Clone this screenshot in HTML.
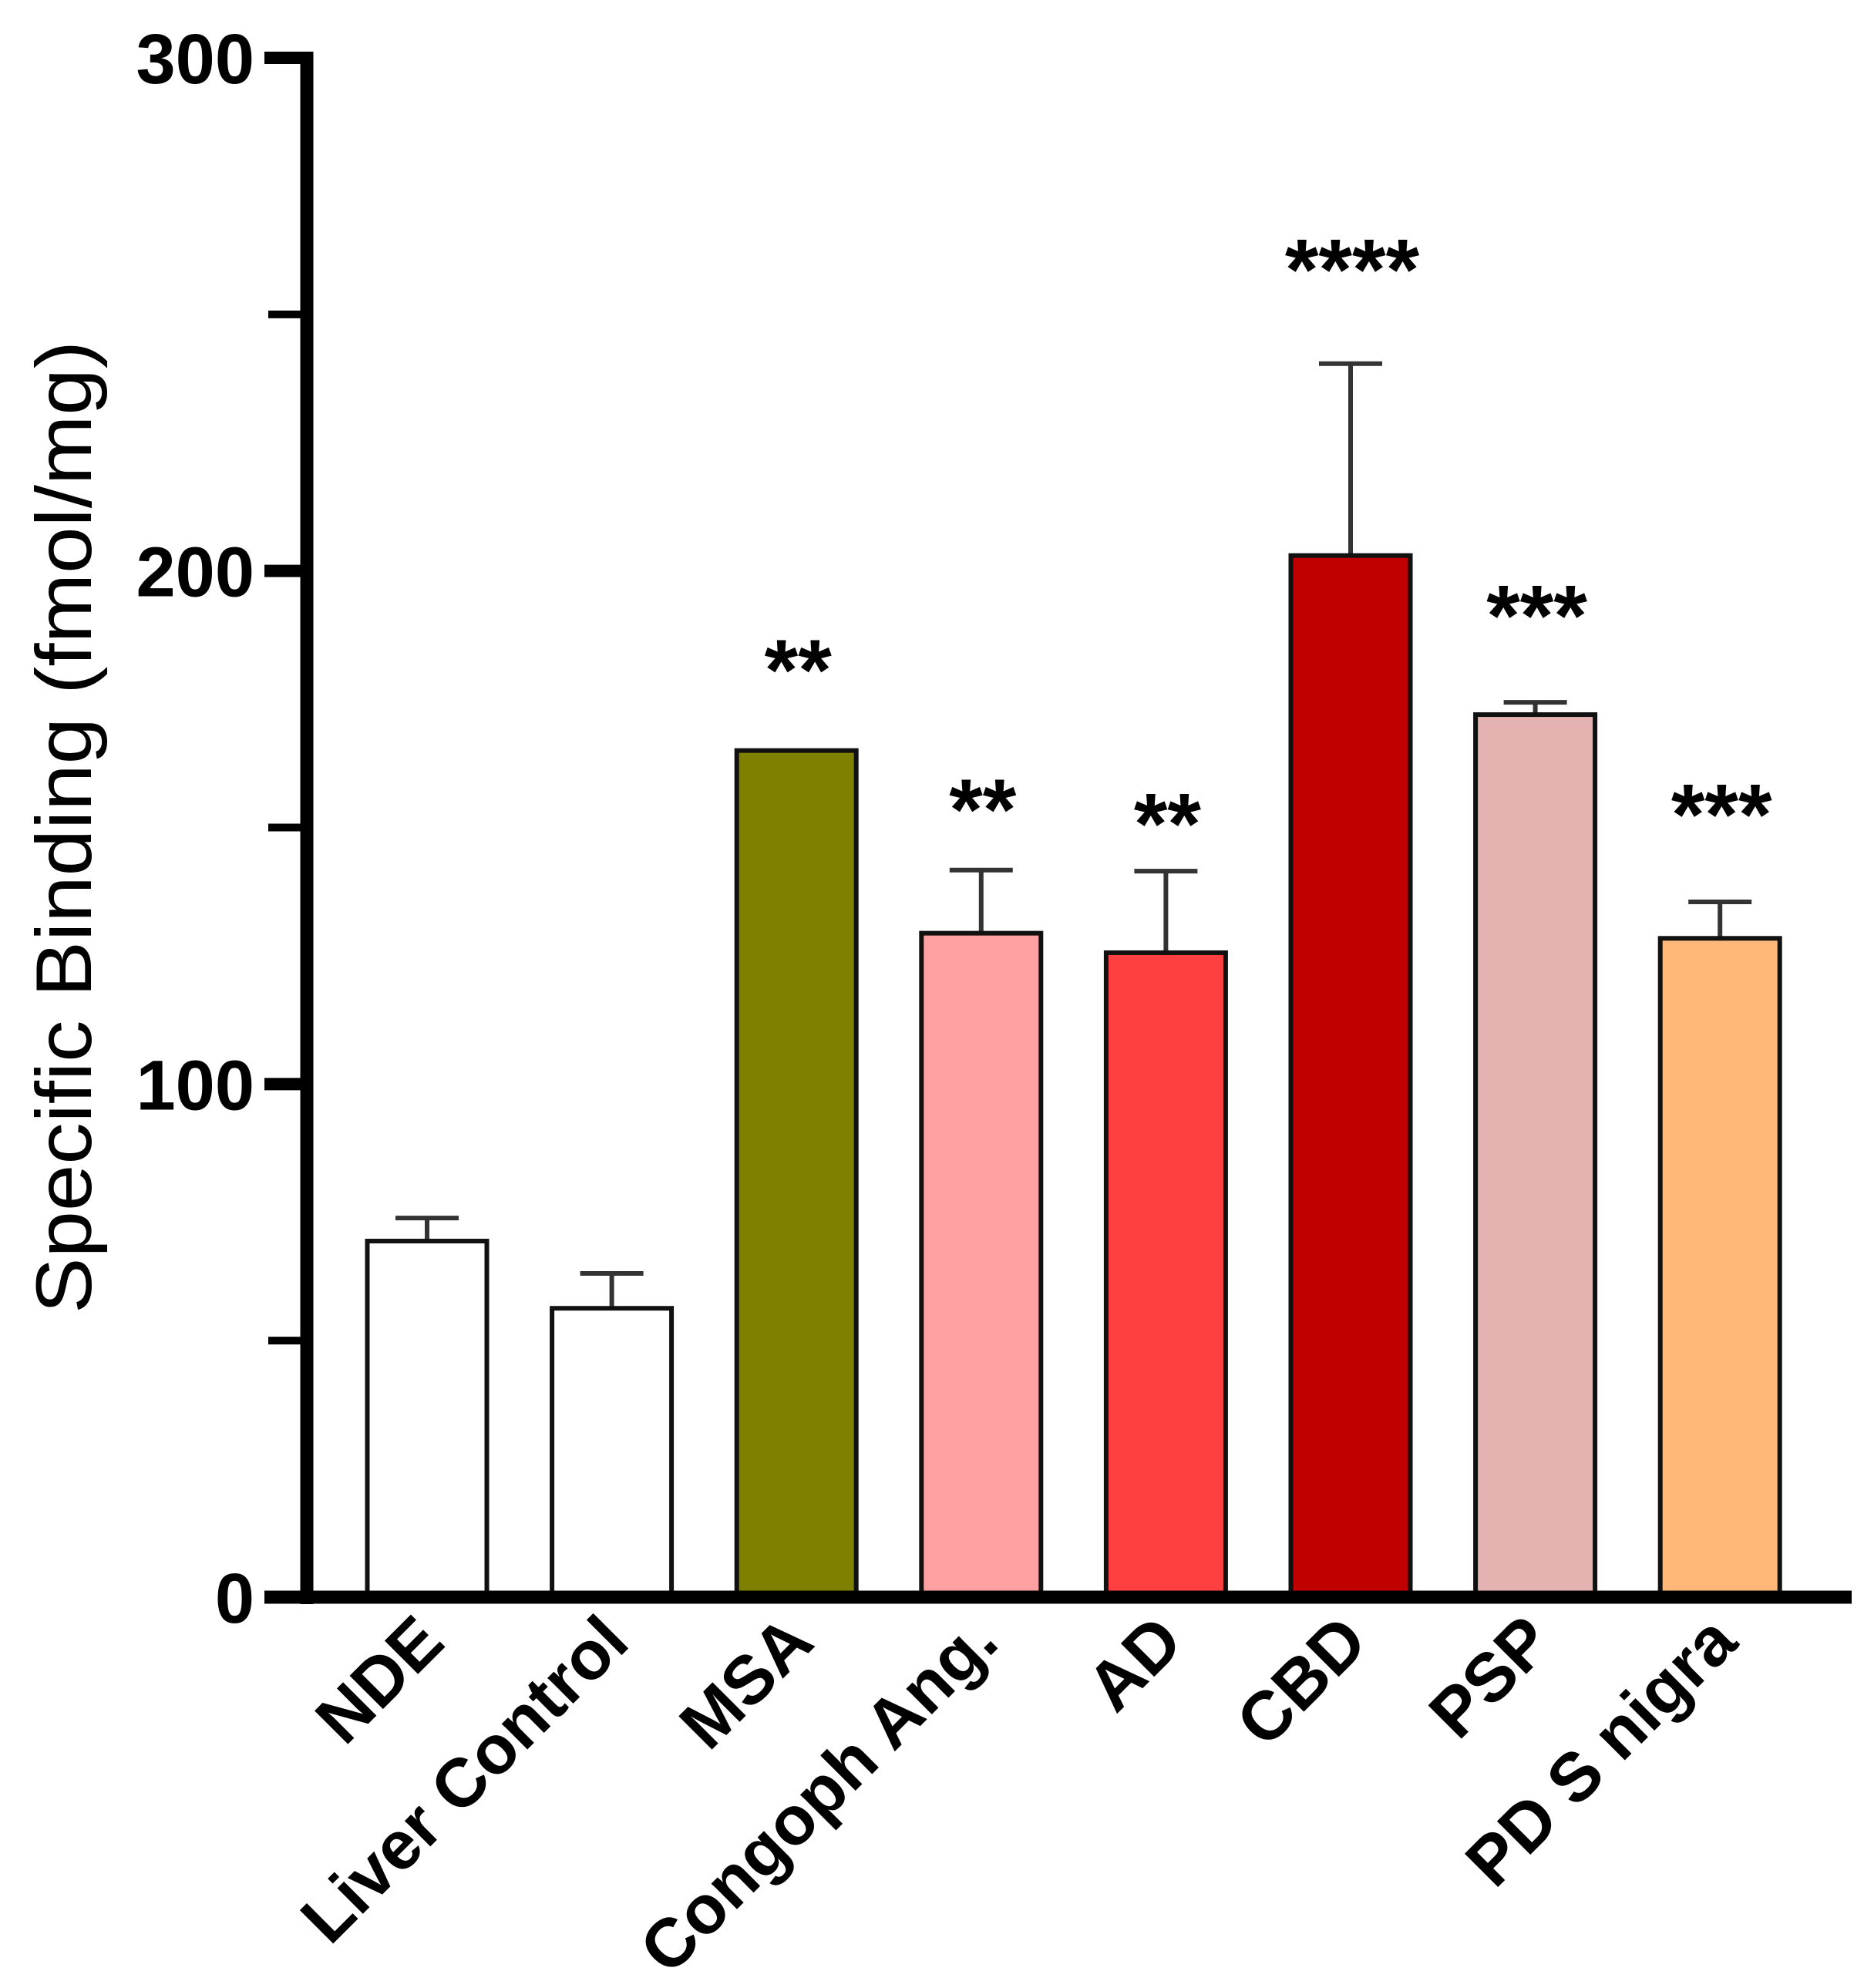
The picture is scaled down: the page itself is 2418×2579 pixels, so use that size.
<!DOCTYPE html>
<html><head><meta charset="utf-8"><style>
html,body{margin:0;padding:0;background:#fff;overflow:hidden;}
svg{display:block;}
</style></head><body>
<svg id="chart" width="2418" height="2579" xmlns="http://www.w3.org/2000/svg" font-family="Liberation Sans, Arial, sans-serif">
<g id="plot"></g>
</svg>
<script>
const categories = ["NDE","Liver Control","MSA","Congoph Ang.","AD","CBD","PSP","PD S nigra"];
const values = [69.4, 56.3, 165, 129.4, 125.6, 203, 172, 128.4];
const errors = [4.5, 6.8, 0, 12.3, 15.9, 37.4, 2.4, 7.1];
const stars = ["", "", "**", "**", "**", "****", "***", "***"];
const starLevels = [0, 0, 183, 155.8, 153, 261, 193.6, 154.8];
const colors = ["#ffffff","#ffffff","#808000","#ffa0a2","#ff4042","#c00000","#e4b2b1","#ffb878"];
const yTicks = [0,100,200,300];
const yMinorTicks = [50,150,250];

const NS = "http://www.w3.org/2000/svg";
const g = document.getElementById('plot');
const y0 = 2072, yTop = 75, vMax = 300;
function yScale(v){ return y0 - (v / vMax) * (y0 - yTop); }
const axisX = 398, axisRight = 2402;
const firstCenter = 554, step = 239.6, barW = 155;
function xScale(i){ return firstCenter + step * i; }
function mk(tag, attrs){ const e = document.createElementNS(NS, tag); for (const k in attrs) e.setAttribute(k, attrs[k]); g.appendChild(e); return e; }

categories.forEach((c, i) => {
  const cx = xScale(i), top = yScale(values[i]);
  if (errors[i] > 0) {
    const et = yScale(values[i] + errors[i]);
    const el = mk('line', {x1: cx, x2: cx, y1: top, y2: et, stroke: '#333', 'stroke-width': 6});
    
    
    const cap = mk('line', {x1: cx - 41, x2: cx + 41, y1: et, y2: et, stroke: '#333', 'stroke-width': 6});
    
    
  }
  const r = mk('rect', {x: cx - barW/2, y: top, width: barW, height: y0 - top, fill: colors[i], stroke: '#111', 'stroke-width': 6});
  
  
  if (stars[i]) {
    const st = mk('text', {x: cx + 2, y: yScale(starLevels[i]) + 54, 'text-anchor': 'middle', 'font-size': 112, 'font-weight': 'bold', fill: '#000'});
    st.textContent = stars[i];
    
    
  }
  const lab = mk('text', {x: 0, y: 0, 'text-anchor': 'end', 'font-size': 89, 'font-weight': 'bold', fill: '#000',
    transform: 'translate(' + (cx + 26) + ',' + (y0 + 62) + ') rotate(-45)'});
  lab.textContent = c;
  
  
});

const ya = mk('line', {x1: axisX, x2: axisX, y1: yTop - 8, y2: y0 + 9, stroke: '#000', 'stroke-width': 17});


const xa = mk('line', {x1: 343, x2: axisRight, y1: y0, y2: y0, stroke: '#000', 'stroke-width': 17});


yTicks.forEach(t => {
  const yy = yScale(t);
  const tk = mk('line', {x1: 343, x2: axisX, y1: yy, y2: yy, stroke: '#000', 'stroke-width': 16});
  
  
  const tl = mk('text', {x: 330, y: yy + 33, 'text-anchor': 'end', 'font-size': 92, 'font-weight': 'bold', fill: '#000'});
  tl.textContent = t;
  
  
});
yMinorTicks.forEach(t => {
  const yy = yScale(t);
  const tk = mk('line', {x1: 348, x2: axisX, y1: yy, y2: yy, stroke: '#000', 'stroke-width': 10});
  
  
});
const title = mk('text', {x: 0, y: 0, 'text-anchor': 'middle', 'font-size': 102, fill: '#000',
  textLength: 1262, lengthAdjust: 'spacingAndGlyphs', transform: 'translate(118,1073) rotate(-90)'});
title.textContent = 'Specific Binding (fmol/mg)';


</script>
</body></html>
